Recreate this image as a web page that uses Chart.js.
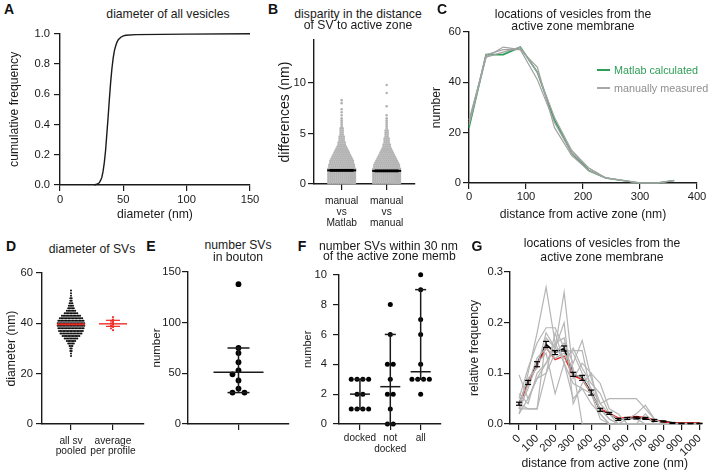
<!DOCTYPE html>
<html><head><meta charset="utf-8">
<script src="https://cdn.jsdelivr.net/npm/chart.js@4.4.1/dist/chart.umd.min.js"></script>
<style>
html,body{margin:0;padding:0;background:#fff;}
#wrap{position:relative;width:708px;height:472px;overflow:hidden;background:#fff;font-family:"Liberation Sans",Arial,Helvetica,sans-serif;color:#1a1a1a;}
canvas{position:absolute;}
.t{position:absolute;white-space:nowrap;transform:translate(-50%,-50%);font-size:12.2px;line-height:1;}
.l{position:absolute;white-space:nowrap;transform:translate(0,-50%);font-size:12.2px;line-height:1;}
.lab{position:absolute;font-weight:bold;font-size:14px;transform:translate(-50%,-50%);line-height:1;color:#111;}
.seg{position:absolute;height:2px;}
</style></head><body><div id="wrap"></div>
<script>
// ---------------- DATA ----------------
// A: cumulative distribution of vesicle diameters
const aDiameter = [27, 29, 31, 32, 33, 34, 35, 36, 37, 38, 39, 40, 41, 42, 43, 44, 45, 46, 48, 50, 52, 60, 100, 150];
const aCumFreq  = [0, 0.005, 0.015, 0.03, 0.05, 0.09, 0.15, 0.23, 0.34, 0.45, 0.57, 0.68, 0.77, 0.84, 0.89, 0.92, 0.945, 0.96, 0.977, 0.986, 0.99, 0.994, 0.997, 1.0];
const aXTicks = [0, 50, 100, 150];
const aYTicks = [0, 0.2, 0.4, 0.6, 0.8, 1.0];

// B: differences (nm), swarm rows (value, number of points per row)
const bCategories = [["manual", "vs", "Matlab"], ["manual", "vs", "manual"]];
const bRowValues   = [0.1,0.3,0.5,0.7,0.9,1.1,1.3,1.5,1.7,1.9,2.1,2.3,2.5,2.7,2.9,3.1,3.3,3.5,3.7,3.9,4.1,4.3,4.5,4.7,4.9,5.1,5.3,5.5,5.7,5.9,6.1,6.3,6.5,6.8,7.1,7.4,7.7,8.0,8.3,8.6,9.0,9.4,9.8];
const bCountsMatlab = [14,14,14,14,14,14,14,14,13,13,12,12,11,10,9,8,7,6,5,4,4,3,3,3,2,2,2,2,1,1,1,1,1,1,1,1,0,1,1,0,0,0,0];
const bCountsManual = [14,14,14,14,14,14,14,14,13,13,12,11,10,9,8,7,6,5,4,4,3,3,3,2,2,2,2,1,1,1,1,1,1,1,0,0,1,0,0,0,1,0,1];
const bMeans = [1.35, 1.3];
const bSem = [0.07, 0.07];
const bYTicks = [0, 5, 10];

// C: number of vesicles vs distance
const cDistance = [0, 30, 60, 90, 120, 150, 180, 210, 240, 270, 300, 330, 360];
const cMatlab   = [22, 51, 51, 54, 44, 25, 12, 5, 2, 1, 0, 0, 1];
const cManual1  = [25, 50, 54, 53, 46, 22, 11, 5, 2, 1, 0, 0, 1];
const cManual2  = [24, 51, 53, 53, 41, 24, 12, 6, 2, 1, 0, 0, 1];
const cManual3  = [23, 50, 52, 54, 44, 26, 13, 6, 2, 1, 0, 0, 1];
const cLegend = ["Matlab calculated", "manually measured"];
const cXTicks = [0, 100, 200, 300, 400];
const cYTicks = [0, 20, 40, 60];

// D: diameter of SVs
const dCategories = [["all sv", "pooled"], ["average", "per profile"]];
const dRowValues = [27,28,29,30,31,32,33,34,35,36,37,38,39,40,41,42,43,44,45,46,47,48,49,50,51,52,53];
const dRowCounts = [1,1,2,2,3,5,7,10,13,16,18,19,20,20,19,17,14,10,7,5,4,3,2,2,1,1,1];
const dPooledMean = 39.6;
const dProfileValues = [42.5, 41.5, 41.0, 40.5, 40.0, 39.5, 39.0, 38.5, 38.0, 37.3];
const dProfileMean = 39.8;
const dProfileErr = [38.8, 41.2];
const dYTicks = [0, 20, 40, 60];

// E: number SVs in bouton
const eValues = [138, 75, 70, 61, 53, 49, 43, 35, 31, 31];
const eYTicks = [0, 50, 100, 150];

// F: number SVs within 30 nm
const fCategories = ["docked", ["not", "docked"], "all"];
const fDocked    = [3, 3, 3, 3, 2, 2, 1, 1, 1, 1];
const fNotDocked = [8, 6, 4, 4, 3, 2, 2, 1, 0, 0];
const fAll       = [10, 9, 7, 6, 4, 3, 3, 3, 3, 2];
const fYTicks = [0, 2, 4, 6, 8, 10];

// G: relative frequency vs distance
const gDistance = [0,50,100,150,200,250,300,350,400,450,500,550,600,650,700,750,800,850,900,950,1000];
const gMean = [0.04,0.082,0.118,0.157,0.141,0.149,0.098,0.091,0.062,0.028,0.021,0.009,0.011,0.012,0.011,0.007,0.005,0.002,0.001,0.001,0.001];
const gSem  = [0.003,0.004,0.005,0.006,0.004,0.005,0.004,0.005,0.005,0.003,0.002,0.002,0.002,0.002,0.002,0.002,0.001,0.001,0.0005,0.0005,0.0005];
const gRed  = [0.038,0.08,0.115,0.151,0.127,0.134,0.095,0.088,0.06,0.03,0.021,0.012,0.013,0.015,0.013,0.008,0.004,0.002,0.002,0.002,0.002];
const gProfile1  = [0.03,0.10,0.18,0.27,0.16,0.12,0.08,0.07,0.04,0.02,0,0,0,0,0,0,0,0,0,0,0];
const gProfile2  = [0.02,0.05,0.09,0.12,0.15,0.26,0.10,0.09,0.06,0.03,0.01,0,0,0,0,0,0,0,0,0,0];
const gProfile3  = [0.05,0.11,0.16,0.19,0.19,0.15,0.14,0.10,0.07,0.04,0.05,0.05,0.05,0.05,0.03,0.01,0,0,0,0,0];
const gProfile4  = [0.03,0.07,0.12,0.14,0.06,0.12,0.15,0.11,0.08,0.06,0.02,0.01,0.01,0.02,0.037,0.01,0,0,0,0,0];
const gProfile5  = [0.097,0.05,0.09,0.10,0.14,0.16,0.12,0.165,0.09,0.04,0.02,0,0.01,0.01,0,0,0,0,0,0,0];
const gProfile6  = [0.04,0.03,0.03,0.17,0.15,0.20,0.04,0.08,0.10,0.02,0,0,0,0,0,0,0,0,0,0,0];
const gProfile7  = [0.02,0.08,0.13,0.15,0.13,0.14,0.11,0,0,0,0,0,0,0,0,0,0,0,0,0,0];
const gProfile8  = [0.04,0.09,0.11,0.18,0.15,0.13,0.145,0.145,0.06,0.01,0,0,0,0,0,0,0,0,0,0,0];
const gProfile9  = [0.06,0.04,0.10,0.12,0.16,0.17,0.09,0.12,0.10,0.08,0.03,0.02,0,0,0.02,0,0,0,0,0,0];
const gProfile10 = [0.03,0.03,0.03,0.10,0.18,0.12,0.05,0.07,0.06,0.03,0.01,0,0,0,0,0,0,0,0,0,0];
const gXTicks = [0,100,200,300,400,500,600,700,800,900,1000];
const gYTicks = [0, 0.1, 0.2, 0.3];

// ---------------- RENDERING ----------------
const FONT = '"Liberation Sans", Arial, Helvetica, sans-serif';
const INK = '#1a1a1a';
const GREEN = '#2e9d57';
const RED = '#ee2b24';
const wrap = document.getElementById('wrap');
const marksById = {};

Chart.register({
  id: 'marks',
  afterDatasetsDraw(chart) {
    const items = marksById[chart.canvas.id] || [];
    const xs = chart.scales.x, ys = chart.scales.y, ctx = chart.ctx;
    ctx.save();
    for (const it of items) {
      ctx.strokeStyle = it.color; ctx.lineWidth = it.width; ctx.beginPath();
      const px = xs.getPixelForValue(it.x);
      if (it.kind === 'h') { const py = ys.getPixelForValue(it.y); ctx.moveTo(px - it.hw, py); ctx.lineTo(px + it.hw, py); }
      else { ctx.moveTo(px, ys.getPixelForValue(it.y1)); ctx.lineTo(px, ys.getPixelForValue(it.y2)); }
      ctx.stroke();
    }
    ctx.restore();
  }
});

function text(cls, str, x, y, extra) {
  const d = document.createElement('div'); d.className = cls; d.textContent = str;
  d.style.left = x + 'px'; d.style.top = y + 'px';
  if (extra) Object.assign(d.style, extra);
  wrap.appendChild(d);
}

function pts(xs, ys) { return xs.map((x, i) => ({x, y: ys[i]})); }

function rowPoints(vals, counts, cx, stepUnits) {
  const out = [];
  vals.forEach((v, i) => { const n = counts[i]; for (let j = 0; j < n; j++) out.push({x: cx + (j - (n - 1) / 2) * stepUnits, y: v}); });
  return out;
}

// beeswarm layout: equal values share a row, colliding rows are shifted sideways
function swarm(values, cx, unitsPerPxX, unitsPerPxY, spacingPx, minDistPx) {
  const sorted = [...values].sort((a, b) => b - a);
  const rows = [];
  for (const v of sorted) { if (rows.length && rows[rows.length - 1].v === v) rows[rows.length - 1].n++; else rows.push({v, n: 1}); }
  const placed = [], out = [];
  const shifts = [0, -0.5, 0.5, -1, 1, -1.5, 1.5, -2, 2, -2.5, 2.5];
  for (const row of rows) {
    const py = row.v / unitsPerPxY;
    const base = []; for (let j = 0; j < row.n; j++) base.push((j - (row.n - 1) / 2) * spacingPx);
    for (let k = 0; k < shifts.length; k++) {
      const xs = base.map(b => b + shifts[k] * spacingPx);
      const ok = xs.every(x => placed.every(p => Math.hypot(p.x - x, p.y - py) >= minDistPx));
      if (ok || k === shifts.length - 1) {
        xs.forEach(x => { placed.push({x, y: py}); out.push({x: cx + x * unitsPerPxX, y: row.v}); });
        break;
      }
    }
  }
  return out;
}

function medianCI(vals) {
  const s = [...vals].sort((a, b) => a - b), n = s.length;
  const med = n % 2 ? s[(n - 1) / 2] : (s[n / 2 - 1] + s[n / 2]) / 2;
  return {med, lo: s[1], hi: s[n - 2]};
}

function panel(p) {
  const yTF = p.yTitleSize || 12.2, xTF = p.xTitleSize || 12.2;
  const lhY = yTF * 1.2, lhX = xTF * 1.2;
  const left = Math.max(0, Math.floor(p.yTitleX - lhY / 2) - 1);
  const yw = p.x0 - left;
  const yPadTop = p.yTitleX - lhY / 2 - left;
  const padT = p.padT ?? 10, padR = p.padR ?? 14;
  const top = p.y0 - padT;
  let xh = p.xh || 40, xPadBottom = 0;
  if (p.xTitle) { xh = Math.ceil(p.xTitleY + lhX / 2 + 1 - p.y1); xPadBottom = p.y1 + xh - p.xTitleY - lhX / 2; }
  const W = p.x1 - left + padR, H = p.y1 + xh - top;
  const cv = document.createElement('canvas');
  cv.id = p.id; cv.width = W; cv.height = H;
  cv.style.left = left + 'px'; cv.style.top = top + 'px'; cv.style.width = W + 'px'; cv.style.height = H + 'px';
  wrap.appendChild(cv);
  marksById[p.id] = p.marks || [];
  const grid = {display: true, drawOnChartArea: false, drawTicks: true, tickLength: 6, color: INK, lineWidth: 1.2};
  const border = {display: true, color: INK, width: 1.4};
  p.datasets.forEach(d => { d.clip = false; });
  new Chart(cv, {
    type: 'scatter',
    data: {datasets: p.datasets},
    options: {
      responsive: false, animation: false, devicePixelRatio: 1,
      layout: {padding: {left: 0, top: padT, right: padR, bottom: 0}},
      plugins: {legend: {display: false}, tooltip: {enabled: false}, title: {display: false}},
      scales: {
        x: {type: 'linear', position: 'bottom', bounds: 'data', min: p.xMin, max: p.xMax, grid, border,
            afterBuildTicks: s => { s.ticks = p.xTicks.map(v => ({value: v})); },
            afterFit: s => { s.height = xh; },
            ticks: {autoSkip: false, color: INK, padding: p.xTickPad ?? 2,
                    font: {family: FONT, size: p.xTickSize || 11.2, lineHeight: p.xTickLH || 1.2},
                    maxRotation: p.xRot || 0, minRotation: p.xRot || 0,
                    callback: p.xFmt || (v => String(v))},
            title: {display: !!p.xTitle, text: p.xTitle || '', color: INK, font: {family: FONT, size: xTF}, padding: {top: 0, bottom: xPadBottom}}
        },
        y: {type: 'linear', position: 'left', bounds: 'data', min: p.yMin, max: p.yMax, grid, border,
            afterBuildTicks: s => { s.ticks = p.yTicks.map(v => ({value: v})); },
            afterFit: s => { s.width = yw; },
            ticks: {color: INK, padding: p.yTickPad ?? 3, font: {family: FONT, size: p.yTickSize || 11.2},
                    callback: p.yFmt || (v => String(v))},
            title: {display: !!p.yTitle, text: p.yTitle || '', color: INK, font: {family: FONT, size: yTF}, padding: {top: yPadTop, bottom: 0}}
        }
      }
    }
  });
}

const line = (data, color, width) => ({data, showLine: true, borderColor: color, borderWidth: width, pointRadius: 0, tension: 0, fill: false});
const dots = (data, color, r) => ({data, showLine: false, backgroundColor: color, borderWidth: 0, pointRadius: r});

// ---- A ----
panel({id: 'cA', x0: 60, x1: 250, y0: 33, y1: 185, xMin: 0, xMax: 150, yMin: 0, yMax: 1,
  xTicks: aXTicks, yTicks: aYTicks, yFmt: v => v.toFixed(1),
  yTitle: 'cumulative frequency', yTitleX: 15, xTitle: 'diameter (nm)', xTitleY: 215, xTickPad: 2, yTickPad: 4,
  datasets: [line(pts(aDiameter, aCumFreq), INK, 1.4)]});

// ---- B ----
{
  const r = {x0: 314, x1: 415, xMin: -0.615, xMax: 1.63};
  const u = (r.xMax - r.xMin) / (r.x1 - r.x0);
  const marks = [];
  bMeans.forEach((m, i) => {
    marks.push({kind: 'h', x: i, y: m, hw: 14.5, color: '#000', width: 2});
    marks.push({kind: 'h', x: i, y: m + bSem[i], hw: 12, color: '#000', width: 1.4});
    marks.push({kind: 'h', x: i, y: m - bSem[i], hw: 12, color: '#000', width: 1.4});
  });
  panel({id: 'cB', x0: 314, x1: 415, y0: 40, y1: 184, xMin: r.xMin, xMax: r.xMax, yMin: 0, yMax: 14.25,
    xTicks: [0, 1], yTicks: bYTicks, xFmt: (v, i) => bCategories[i], xTickSize: 10.2, xTickLH: 1.05, xTickPad: 6,
    yTitle: 'differences (nm)', yTitleX: 285, yTitleSize: 14, xh: 45, yTickPad: 2, padR: 18, marks,
    datasets: [dots(rowPoints(bRowValues, bCountsMatlab, 0, 2.05 * u), '#b3b3b3', 1.3),
               dots(rowPoints(bRowValues, bCountsManual, 1, 2.05 * u), '#b3b3b3', 1.3)]});
}

// ---- C ----
panel({id: 'cC', x0: 469, x1: 697, y0: 32, y1: 183, xMin: 0, xMax: 400, yMin: 0, yMax: 60,
  xTicks: cXTicks, yTicks: cYTicks, yTitle: 'number', yTitleX: 437, xTitle: 'distance from active zone (nm)', xTitleY: 215,
  padR: 11, xTickPad: 1, yTickPad: 2,
  datasets: [line(pts(cDistance, cManual1), '#a2a2a2', 1.2), line(pts(cDistance, cManual2), '#a2a2a2', 1.2),
             line(pts(cDistance, cManual3), '#a2a2a2', 1.2), line(pts(cDistance, cMatlab), GREEN, 1.7)]});

// ---- D ----
{
  const xMin = -0.69, xMax = 1.738, x0 = 42, x1 = 144, y0 = 273, y1 = 424;
  const ux = (xMax - xMin) / (x1 - x0), uy = 60 / (y1 - y0);
  const marks = [
    {kind: 'h', x: 0, y: dPooledMean, hw: 14, color: RED, width: 2},
    {kind: 'h', x: 1, y: dProfileMean, hw: 14, color: RED, width: 1.4},
    {kind: 'v', x: 1, y1: dProfileErr[0], y2: dProfileErr[1], color: RED, width: 1.2},
    {kind: 'h', x: 1, y: dProfileErr[0], hw: 7, color: RED, width: 1.2},
    {kind: 'h', x: 1, y: dProfileErr[1], hw: 7, color: RED, width: 1.2}
  ];
  panel({id: 'cD', x0, x1, y0, y1, xMin, xMax, yMin: 0, yMax: 60,
    xTicks: [0, 1], yTicks: dYTicks, xFmt: (v, i) => dCategories[i], xTickSize: 10.2, xTickLH: 0.97, xTickPad: 6,
    yTitle: 'diameter (nm)', yTitleX: 12, xh: 40, yTickPad: 3, padR: 24, marks,
    datasets: [dots(rowPoints(dRowValues, dRowCounts, 0, 1.4 * ux), '#111', 1.0),
               dots(swarm(dProfileValues, 1, ux, uy, 2, 1.8), RED, 1.1)]});
}

// ---- E ----
{
  const xMin = -1, xMax = 1, x0 = 188, x1 = 289, y0 = 272, y1 = 424;
  const ux = (xMax - xMin) / (x1 - x0), uy = 150 / (y1 - y0);
  const st = medianCI(eValues);
  const marks = [
    {kind: 'h', x: 0, y: st.med, hw: 25, color: INK, width: 1.5},
    {kind: 'v', x: 0, y1: st.lo, y2: st.hi, color: INK, width: 1.5},
    {kind: 'h', x: 0, y: st.lo, hw: 11, color: INK, width: 1.5},
    {kind: 'h', x: 0, y: st.hi, hw: 11, color: INK, width: 1.5}
  ];
  panel({id: 'cE', x0, x1, y0, y1, xMin, xMax, yMin: 0, yMax: 150,
    xTicks: [0], xFmt: () => '', yTicks: eYTicks, yTitle: 'number', yTitleX: 157, yTitleSize: 11.5, xh: 20, yTickPad: 1, padR: 8, marks,
    datasets: [dots(swarm(eValues, 0, ux, uy, 12, 4.5), '#000', 2.9)]});
}

// ---- F ----
{
  const xMin = -0.69, xMax = 2.67, x0 = 339, x1 = 441, y0 = 272, y1 = 424;
  const ux = (xMax - xMin) / (x1 - x0), uy = 10 / (y1 - y0);
  const groups = [fDocked, fNotDocked, fAll];
  const marks = [], datasets = [];
  groups.forEach((g, i) => {
    const st = medianCI(g);
    marks.push({kind: 'h', x: i, y: st.med, hw: 10, color: INK, width: 1.5});
    marks.push({kind: 'v', x: i, y1: st.lo, y2: st.hi, color: INK, width: 1.5});
    marks.push({kind: 'h', x: i, y: st.lo, hw: 5.5, color: INK, width: 1.5});
    marks.push({kind: 'h', x: i, y: st.hi, hw: 5.5, color: INK, width: 1.5});
    datasets.push(dots(swarm(g, i, ux, uy, 5.8, 4.5), '#000', 2.5));
  });
  panel({id: 'cF', x0, x1, y0, y1, xMin, xMax, yMin: 0, yMax: 10,
    xTicks: [0, 1, 2], yTicks: fYTicks, xFmt: (v, i) => fCategories[i], xTickSize: 10, xTickLH: 1.1, xTickPad: 3,
    yTitle: 'number', yTitleX: 308, yTitleSize: 11, xh: 40, yTickPad: 6, padR: 8, marks, datasets});
}

// ---- G ----
{
  const profiles = [gProfile1, gProfile2, gProfile3, gProfile4, gProfile5, gProfile6, gProfile7, gProfile8, gProfile9, gProfile10];
  const datasets = profiles.map(pr => line(pts(gDistance, pr), '#b5b5b5', 1.2));
  datasets.push(line(pts(gDistance, gRed), RED, 1.4));
  datasets.push(line(pts(gDistance, gMean), '#000', 1.8));
  const marks = [];
  gDistance.forEach((d, i) => {
    marks.push({kind: 'v', x: d, y1: gMean[i] - gSem[i], y2: gMean[i] + gSem[i], color: '#000', width: 1.2});
    marks.push({kind: 'h', x: d, y: gMean[i] - gSem[i], hw: 3, color: '#000', width: 1.2});
    marks.push({kind: 'h', x: d, y: gMean[i] + gSem[i], hw: 3, color: '#000', width: 1.2});
  });
  panel({id: 'cG', x0: 510, x1: 701, y0: 272, y1: 424, xMin: -50, xMax: 1000, yMin: 0, yMax: 0.3,
    xTicks: gXTicks, yTicks: gYTicks, yFmt: v => v.toFixed(1), xRot: 45,
    yTitle: 'relative frequency', yTitleX: 475, xTitle: 'distance from active zone (nm)', xTitleY: 464,
    padR: 10, xTickPad: 2, yTickPad: 1, marks, datasets});
}

// ---- texts: titles, panel letters, legend ----
text('lab', 'A', 9, 9); text('lab', 'B', 273, 9); text('lab', 'C', 442, 9);
text('lab', 'D', 11, 246); text('lab', 'E', 151, 246); text('lab', 'F', 302, 246); text('lab', 'G', 477, 246);
text('t', 'diameter of all vesicles', 168, 13.5);
text('t', 'disparity in the distance', 358, 13.5); text('t', 'of SV to active zone', 358, 25);
text('t', 'locations of vesicles from the', 573, 14); text('t', 'active zone membrane', 573, 25.7);
text('t', 'diameter of SVs', 92, 249);
text('t', 'number SVs', 238, 245); text('t', 'in bouton', 238, 256.7);
text('l', 'number SVs within 30 nm', 319, 245.7); text('l', 'of the active zone memb', 323, 255.7);
text('t', 'locations of vesicles from the', 602, 243.3); text('t', 'active zone membrane', 602, 256.7);
// legend of C
{
  const s1 = document.createElement('div'); s1.className = 'seg';
  Object.assign(s1.style, {left: '597px', top: '69px', width: '13px', background: GREEN}); wrap.appendChild(s1);
  const s2 = document.createElement('div'); s2.className = 'seg';
  Object.assign(s2.style, {left: '597px', top: '87px', width: '13px', background: '#a8a8a8'}); wrap.appendChild(s2);
  text('l', cLegend[0], 614, 70, {fontSize: '10.8px', color: GREEN});
  text('l', cLegend[1], 614, 88, {fontSize: '10.8px', color: '#8f8f8f'});
}
</script></body></html>
